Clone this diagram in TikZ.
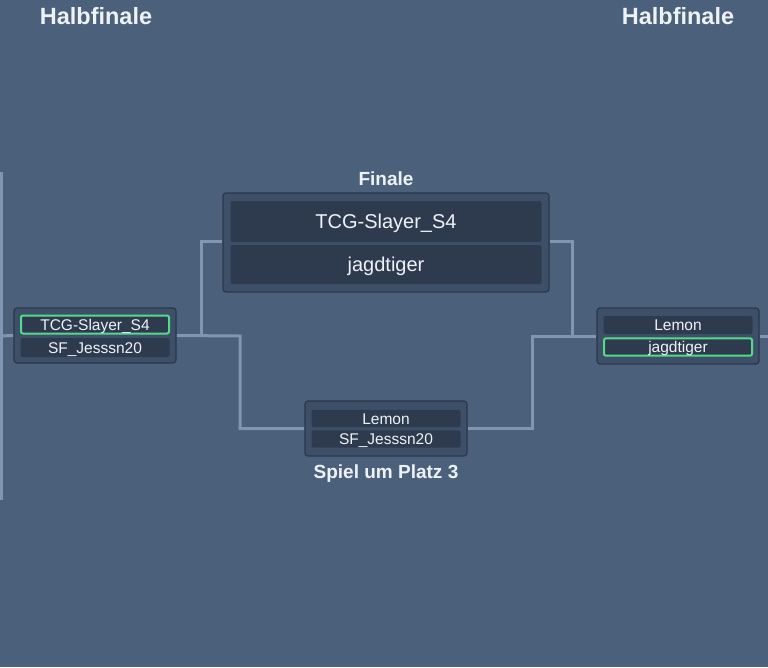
\documentclass[tikz,border=0pt]{standalone}
\usepackage{fontspec}
\setmainfont{Liberation Sans}
\definecolor{bg}{HTML}{4B607B}
\definecolor{conn}{HTML}{8196B0}
\definecolor{boxfill}{HTML}{3D5068}
\definecolor{boxline}{HTML}{2B374A}
\definecolor{rowfill}{HTML}{2E3B4F}
\definecolor{txt}{HTML}{EEF2F7}
\definecolor{win}{HTML}{55D98A}
\pgfdeclarelayer{back}
\pgfdeclarelayer{lines}
\pgfsetlayers{back,lines,main}
\tikzset{
  match/.style={draw=boxline, fill=boxfill, line width=1.2pt, rounded corners=3pt, inner sep=0pt},
  row/.style={fill=rowfill, rounded corners=2pt, inner sep=0pt, text=txt, font=\fontsize{15.5}{18}\selectfont, text height=14.6pt, text depth=2.8pt},
  bigrow/.style={row, font=\fontsize{20}{24}\selectfont, text height=17.4pt, text depth=3.4pt},
  winner/.style={draw=win, line width=2pt},
  heading/.style={text=txt, font=\bfseries\fontsize{19}{22}\selectfont, inner sep=0pt, anchor=base},
  roundtitle/.style={text=txt, font=\bfseries\fontsize{23.5}{28}\selectfont, inner sep=0pt, anchor=base},
  connector/.style={draw=conn, line width=3pt}
}
\begin{document}
\begin{tikzpicture}[x=1pt, y=-1pt]
\begin{pgfonlayer}{back}
\fill[bg] (0,0) rectangle (768,667);
\end{pgfonlayer}
\useasboundingbox (0,0) rectangle (768,667);

% round titles
\node[roundtitle] (hfL) at (96,24) {Halbfinale};
\node[roundtitle] (hfR) at (678,24) {Halbfinale};

% previous-round bracket on the left edge
\coordinate (edgeTop) at (1.5,172);
\coordinate (edgeBot) at (1.5,500);
\coordinate (edgeMid) at (0,336);

% match boxes
\node[match, minimum width=162pt, minimum height=55pt] (sfL) at (95,335.5) {};
\node[row, winner, minimum width=148pt, minimum height=18pt] (sfL1) at (95,324.5) {TCG-Slayer\_S4};
\node[row, minimum width=149pt, minimum height=19pt] (sfL2) at (95,347.5) {SF\_Jesssn20};

\node[match, minimum width=326pt, minimum height=99pt] (fin) at (386,242.5) {};
\node[bigrow, minimum width=311pt, minimum height=41pt] (fin1) at (386,221.5) {TCG-Slayer\_S4};
\node[bigrow, minimum width=311pt, minimum height=39pt] (fin2) at (386,264.5) {jagdtiger};
\node[heading] (finT) at (386,185.5) {Finale};

\node[match, minimum width=162pt, minimum height=55pt] (p3) at (386,428.5) {};
\node[row, minimum width=149pt, minimum height=17pt] (p31) at (386,418.5) {Lemon};
\node[row, minimum width=149pt, minimum height=16pt] (p32) at (386,439) {SF\_Jesssn20};
\node[heading] (p3T) at (386,478) {Spiel um Platz 3};

\node[match, minimum width=162pt, minimum height=56pt] (sfR) at (678,336) {};
\node[row, minimum width=149pt, minimum height=18pt] (sfR1) at (678,325) {Lemon};
\node[row, winner, minimum width=148pt, minimum height=17pt] (sfR2) at (678,347) {jagdtiger};

\coordinate (rightEdge) at (768,336);

% connector turning points
\coordinate (lSplitF) at (201,336);
\coordinate (lSplitP) at (240,336);
\coordinate (rSplitF) at (572,336);
\coordinate (rSplitP) at (532,336);

% connectors
\begin{pgfonlayer}{lines}
\draw[connector] (edgeTop) -- (edgeBot);
\draw[connector] (edgeMid) -- (sfL.west);
\draw[connector] (sfL.east) -- (lSplitP) |- (p3.west);
\draw[connector] (lSplitF) |- ([yshift=1pt]fin.west);
\draw[connector] (sfR.west) -- (rSplitP) |- (p3.east);
\draw[connector] (rSplitF) |- ([yshift=1pt]fin.east);
\draw[connector] (sfR.east) -- (rightEdge);
\end{pgfonlayer}
\end{tikzpicture}
\end{document}
